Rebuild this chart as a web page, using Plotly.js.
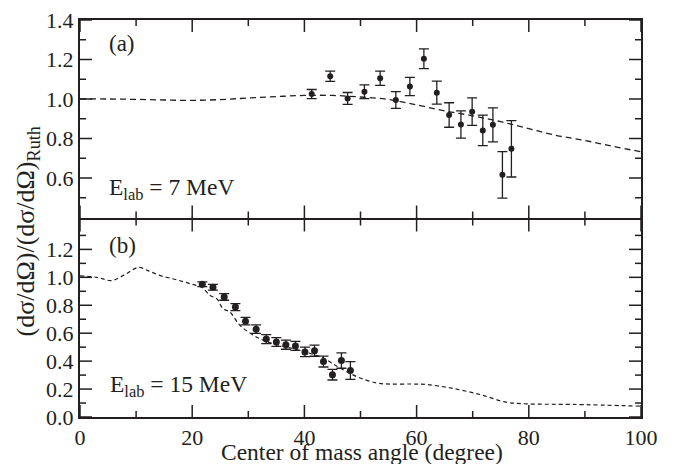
<!DOCTYPE html>
<html>
<head>
<meta charset="utf-8">
<script src="https://cdn.plot.ly/plotly-3.0.1.min.js"></script>
<style>html,body{margin:0;padding:0;background:#fff;}#plot{width:673px;height:464px;}</style>
</head>
<body>
<div id="plot"></div>
<script>
// Panel (a): E_lab = 7 MeV
const angleA = [41.3, 44.6, 47.7, 50.7, 53.5, 56.3, 58.8, 61.3, 63.6, 65.8, 67.9, 69.9, 71.8, 73.6, 75.3, 76.9];
const ratioA = [1.025, 1.115, 1.003, 1.037, 1.105, 0.995, 1.063, 1.204, 1.032, 0.919, 0.871, 0.936, 0.841, 0.869, 0.616, 0.748];
const errA   = [0.023, 0.026, 0.030, 0.035, 0.036, 0.042, 0.046, 0.050, 0.058, 0.062, 0.069, 0.070, 0.077, 0.086, 0.118, 0.143];
const curveAngleA = [0, 5, 10, 15, 20, 25, 30, 35, 40, 45, 50, 55, 60, 65, 70, 75, 80, 85, 90, 95, 100];
const curveRatioA = [1.0, 1.0, 0.998, 0.995, 0.993, 0.997, 1.005, 1.012, 1.018, 1.018, 1.01, 0.998, 0.97, 0.94, 0.915, 0.885, 0.85, 0.815, 0.79, 0.76, 0.733];

// Panel (b): E_lab = 15 MeV
const angleB = [21.8, 23.7, 25.7, 27.7, 29.5, 31.4, 33.2, 35.0, 36.7, 38.4, 40.1, 41.8, 43.4, 45.0, 46.6, 48.2];
const ratioB = [0.95, 0.929, 0.86, 0.787, 0.686, 0.629, 0.558, 0.537, 0.518, 0.509, 0.466, 0.475, 0.397, 0.303, 0.404, 0.333];
const errB   = [0.017, 0.021, 0.024, 0.025, 0.027, 0.030, 0.032, 0.031, 0.033, 0.032, 0.034, 0.040, 0.039, 0.038, 0.055, 0.064];
const curveAngleB = [0, 3, 5.6, 8, 10.4, 12, 14.3, 16.5, 18.4, 20, 21.7, 23.2, 24.4, 25.5, 26.7, 28.5, 30.9, 33.3, 37.4, 40.4, 43.4, 46.3, 49.3, 52.9, 55.3, 59.3, 61.8, 66, 71.3, 76, 79.6, 87.9, 99.8];
const curveRatioB = [1.01, 1.0, 0.977, 1.02, 1.071, 1.05, 1.012, 0.99, 0.969, 0.95, 0.929, 0.87, 0.846, 0.775, 0.752, 0.657, 0.586, 0.539, 0.496, 0.463, 0.42, 0.352, 0.29, 0.243, 0.236, 0.236, 0.232, 0.208, 0.161, 0.106, 0.094, 0.09, 0.078];

// Tick values
const xTickVals = [0, 20, 40, 60, 80, 100];
const xMinorVals = [10, 30, 50, 70, 90];
const yTickValsA = [0.6, 0.8, 1.0, 1.2, 1.4];
const yMinorValsA = [0.5, 0.7, 0.9, 1.1, 1.3];
const yTickValsB = [0.0, 0.2, 0.4, 0.6, 0.8, 1.0, 1.2];
const yMinorValsB = [0.1, 0.3, 0.5, 0.7, 0.9, 1.1, 1.3];

const X_RANGE = [0, 100];
const YA_RANGE = [0.4, 1.4];
const YB_RANGE = [0, 1.414];

const FONT = 'Liberation Serif, Times New Roman, serif';
const INK = '#231f20';
const W = 673, H = 464, ML = 80, MR = 32, MT = 20, MB = 47;
const GAP = 1 / (H - MT - MB);

// pixel -> data unit conversions derived from the axis ranges and domains
const plotW = W - ML - MR, plotH = H - MT - MB;
const pxX = (X_RANGE[1] - X_RANGE[0]) / plotW;
const pxYA = (YA_RANGE[1] - YA_RANGE[0]) / (plotH * (0.5 - GAP));
const pxYB = (YB_RANGE[1] - YB_RANGE[0]) / (plotH * (0.5 - GAP));
const MAJ = 10, MIN = 5;

function tickTrace(xs, ys, xa, ya, symbol, size) {
  return {x: xs, y: ys, xaxis: xa, yaxis: ya, mode: 'markers', type: 'scatter', hoverinfo: 'skip', cliponaxis: false,
          marker: {symbol: symbol, size: size, color: INK, line: {color: INK, width: 1.5}}};
}
const rep = (arr, v) => arr.map(() => v);

const tickTraces = [];
// x ticks: bottom panel (bottom edge and top edge), top panel (bottom edge and top edge)
[[xTickVals, MAJ], [xMinorVals, MIN]].forEach(([vals, len]) => {
  tickTraces.push(tickTrace(vals, rep(vals, YB_RANGE[0] + len / 2 * pxYB), 'x', 'y2', 'line-ns-open', len));
  tickTraces.push(tickTrace(vals, rep(vals, YB_RANGE[1] - len / 2 * pxYB), 'x', 'y2', 'line-ns-open', len));
  tickTraces.push(tickTrace(vals, rep(vals, YA_RANGE[0] + len / 2 * pxYA), 'x2', 'y', 'line-ns-open', len));
  tickTraces.push(tickTrace(vals, rep(vals, YA_RANGE[1] - len / 2 * pxYA), 'x2', 'y', 'line-ns-open', len));
});
// y ticks: left and right edges of both panels
[[yTickValsA, MAJ, 'x2', 'y'], [yMinorValsA, MIN, 'x2', 'y'], [yTickValsB, MAJ, 'x', 'y2'], [yMinorValsB, MIN, 'x', 'y2']].forEach(([vals, len, xa, ya]) => {
  tickTraces.push(tickTrace(rep(vals, X_RANGE[0] + len / 2 * pxX), vals, xa, ya, 'line-ew-open', len));
  tickTraces.push(tickTrace(rep(vals, X_RANGE[1] - len / 2 * pxX), vals, xa, ya, 'line-ew-open', len));
});

const traces = [
  {x: curveAngleA, y: curveRatioA, xaxis: 'x2', yaxis: 'y', mode: 'lines', type: 'scatter',
   line: {color: INK, width: 1.3, dash: '6px,4px', shape: 'spline'}, hoverinfo: 'skip'},
  {x: angleA, y: ratioA, xaxis: 'x2', yaxis: 'y', mode: 'markers', type: 'scatter',
   marker: {color: INK, size: 6},
   error_y: {type: 'data', array: errA, visible: true, color: INK, thickness: 1.3, width: 5}},
  {x: curveAngleB, y: curveRatioB, xaxis: 'x', yaxis: 'y2', mode: 'lines', type: 'scatter',
   line: {color: INK, width: 1.2, dash: '4px,3px', shape: 'spline'}, hoverinfo: 'skip'},
  {x: angleB, y: ratioB, xaxis: 'x', yaxis: 'y2', mode: 'markers', type: 'scatter',
   marker: {color: INK, size: 7},
   error_y: {type: 'data', array: errB, visible: true, color: INK, thickness: 1.3, width: 5}}
].concat(tickTraces);

function ax(extra) {
  return Object.assign({
    showline: true, linecolor: INK, linewidth: 2, mirror: true,
    ticks: '', showgrid: false, zeroline: false, autorange: false,
    tickfont: {family: FONT, size: 22, color: INK}
  }, extra);
}

const layout = {
  width: W, height: H,
  margin: {l: ML, r: MR, t: MT, b: MB},
  showlegend: false,
  xaxis: ax({anchor: 'y2', range: X_RANGE, tickvals: xTickVals}),
  xaxis2: ax({anchor: 'y', range: X_RANGE, tickvals: xTickVals, showticklabels: false}),
  yaxis: ax({anchor: 'x2', domain: [0.5 + GAP, 1], range: YA_RANGE, tickvals: yTickValsA, tickformat: '.1f'}),
  yaxis2: ax({anchor: 'x', domain: [0, 0.5 - GAP], range: YB_RANGE, tickvals: yTickValsB, tickformat: '.1f'}),
  annotations: [
    {text: '(a)', xref: 'paper', yref: 'paper', x: 0.048, y: 0.94, xanchor: 'left', yanchor: 'middle',
     showarrow: false, font: {family: FONT, size: 23, color: INK}},
    {text: '(b)', xref: 'paper', yref: 'paper', x: 0.048, y: 0.431, xanchor: 'left', yanchor: 'middle',
     showarrow: false, font: {family: FONT, size: 23, color: INK}},
    {text: 'E<sub>lab</sub> = 7 MeV', xref: 'paper', yref: 'paper', x: 0.048, y: 0.575, xanchor: 'left', yanchor: 'middle',
     showarrow: false, font: {family: FONT, size: 23.5, color: INK}},
    {text: 'E<sub>lab</sub> = 15 MeV', xref: 'paper', yref: 'paper', x: 0.05, y: 0.078, xanchor: 'left', yanchor: 'middle',
     showarrow: false, font: {family: FONT, size: 23.5, color: INK}},
    {text: 'Center of mass angle (degree)', xref: 'paper', yref: 'paper', x: 0.503, y: -0.088, xanchor: 'center', yanchor: 'middle',
     showarrow: false, font: {family: FONT, size: 23.5, color: INK}},
    {text: '(dσ/dΩ)/(dσ/dΩ)<sub>Ruth</sub>', xref: 'paper', yref: 'paper', x: -0.094, y: 0.468, xanchor: 'center', yanchor: 'middle',
     textangle: -90, showarrow: false, font: {family: FONT, size: 26, color: INK}}
  ]
};

Plotly.newPlot('plot', traces, layout, {displayModeBar: false});
</script>
</body>
</html>
